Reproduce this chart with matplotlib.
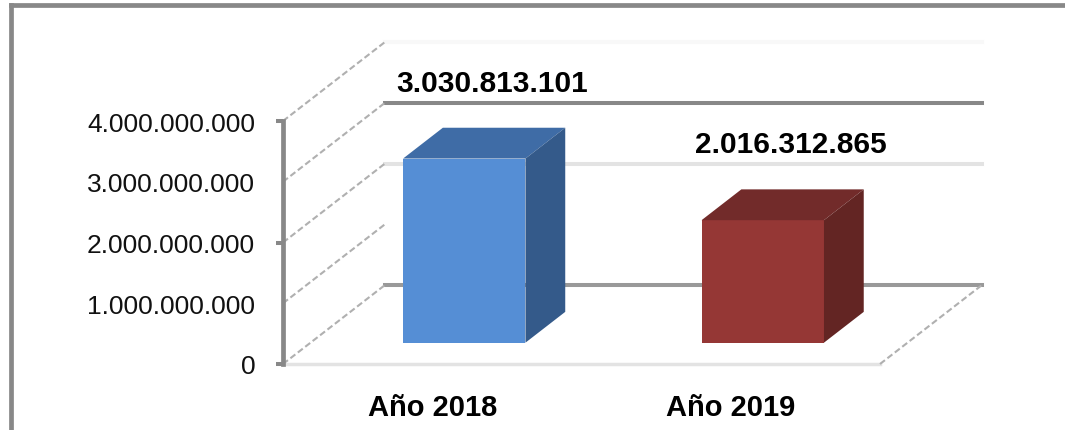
import matplotlib
matplotlib.use('Agg')
import matplotlib.pyplot as plt
from matplotlib.lines import Line2D
from matplotlib.patches import Polygon

# Values
categories = ['Año 2018', 'Año 2019']
values = [3030813101, 2016312865]
value_labels = ['3.030.813.101', '2.016.312.865']
y_ticks = [0, 1000000000, 2000000000, 3000000000, 4000000000]
y_tick_labels = ['0', '1.000.000.000', '2.000.000.000', '3.000.000.000', '4.000.000.000']

# Colours of each bar: front, top, side
bar_colors = [('#558ed5', '#3f6ca6', '#345a8a'), ('#953735', '#722b2a', '#632523')]
# Back wall lines, one per y tick
wall_colors = ['#999999', '#ffffff', '#e3e3e3', '#888888', '#f8f8f8']

W, H = 1065, 431
plt.rcParams['font.family'] = ['Liberation Sans', 'DejaVu Sans']
fig = plt.figure(figsize=(W / 100, H / 100), dpi=100)
ax = fig.add_axes([283 / W, 1 - 365 / H, 597 / W, 243 / H])
ax.set_xlim(-0.5, 1.5)
ax.set_ylim(0, 4000000000)
ax.patch.set_visible(False)

# Oblique projection: depth 1 is the back wall, in pixels
DEPTH_X, DEPTH_Y = 102, 79


def proj(x, v, d=0):
    px, py = ax.transData.transform((x, v))
    return px + d * DEPTH_X, py + d * DEPTH_Y


def screen_line(points, **kw):
    xs, ys = zip(*points)
    ax.add_line(Line2D(xs, ys, transform=None, clip_on=False, **kw))


# Back wall and side wall
for v, col in zip(y_ticks, wall_colors):
    screen_line([proj(-0.5, v, 1), proj(1.5, v, 1)], color=col, lw=2.9, zorder=1)
    screen_line([proj(-0.5, v, 0), proj(-0.5, v, 1)], color='#b0b0b0', lw=1.5,
                ls=(0, (3, 1.5)), zorder=1)

# Floor
screen_line([proj(-0.5, 0), proj(1.5, 0)], color='#e3e3e3', lw=2.5, zorder=1)
screen_line([proj(1.5, 0, 0), proj(1.5, 0, 1)], color='#b0b0b0', lw=1.5,
            ls=(0, (3, 1.5)), zorder=1)

# Bars
bar_w = 0.41
shift = 0.015
d0, d1 = 0.27, 0.66
for i, v in enumerate(values):
    front, top, side = bar_colors[i]
    l, r = i + shift - bar_w / 2, i + shift + bar_w / 2
    ax.add_patch(Polygon([proj(l, 0, d0), proj(r, 0, d0), proj(r, v, d0), proj(l, v, d0)],
                         transform=None, fc=front, ec='none', zorder=3, clip_on=False))
    ax.add_patch(Polygon([proj(l, v, d0), proj(r, v, d0), proj(r, v, d1), proj(l, v, d1)],
                         transform=None, fc=top, ec='none', zorder=3, clip_on=False))
    ax.add_patch(Polygon([proj(r, 0, d0), proj(r, 0, d1), proj(r, v, d1), proj(r, v, d0)],
                         transform=None, fc=side, ec='none', zorder=3, clip_on=False))
    lx, ly = proj(i + shift, v, d1)
    ax.annotate(value_labels[i], xy=(lx, ly), xycoords='figure pixels',
                xytext=(-12, 45), textcoords='offset pixels', ha='center', va='center',
                fontsize=21.5, fontweight='bold', color='black', annotation_clip=False)

# Axes
ax.set_yticks(y_ticks)
ax.set_yticklabels(y_tick_labels, fontsize=19, color='#111111')
ax.set_xticks([0, 1])
ax.set_xticklabels(categories, fontsize=21, fontweight='bold')
ax.tick_params(axis='x', length=0, pad=21)
ax.tick_params(axis='y', length=5, width=2.9, color='#888888', pad=15)
for i in (1, 3):
    ax.yaxis.get_major_ticks()[i].tick1line.set_visible(False)
for name in ('top', 'right', 'bottom'):
    ax.spines[name].set_visible(False)
ax.spines['left'].set_color('#888888')
ax.spines['left'].set_linewidth(3.4)

# Frame of the cropped picture
frame = '#888888'
fig.add_artist(Line2D([11 / W, 1], [1 - 6 / H, 1 - 6 / H], color=frame, lw=3.4))
fig.add_artist(Line2D([11 / W, 11 / W], [0, 1 - 6 / H], color=frame, lw=3.4))

fig.savefig('out.png', dpi=100)
